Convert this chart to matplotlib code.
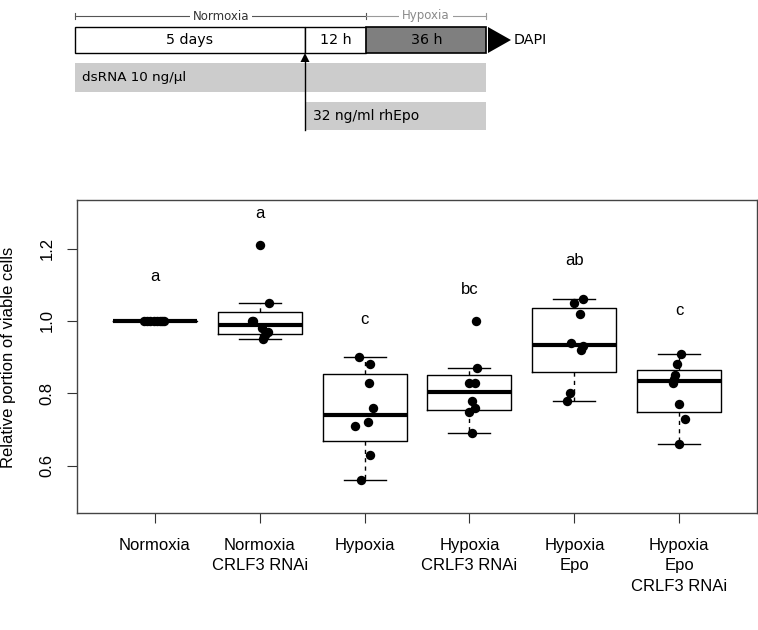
import numpy as np
import matplotlib
matplotlib.use('Agg')
import matplotlib.pyplot as plt
from matplotlib.patches import Rectangle, Polygon

plt.rcParams['font.family'] = ['Liberation Sans', 'DejaVu Sans']

# groups and measured values (relative portion of viable cells)
groups = ['Normoxia', 'Normoxia\nCRLF3 RNAi', 'Hypoxia', 'Hypoxia\nCRLF3 RNAi',
          'Hypoxia\nEpo', 'Hypoxia\nEpo\nCRLF3 RNAi']
normoxia = [1.00, 1.00, 1.00, 1.00, 1.00, 1.00, 1.00, 1.00]
normoxia_rnai = [1.21, 1.05, 1.00, 1.00, 0.98, 0.97, 0.96, 0.95]
hypoxia = [0.90, 0.88, 0.83, 0.76, 0.72, 0.71, 0.63, 0.56]
hypoxia_rnai = [1.00, 0.87, 0.83, 0.83, 0.78, 0.76, 0.75, 0.69]
hypoxia_epo = [1.06, 1.05, 1.02, 0.94, 0.93, 0.92, 0.80, 0.78]
hypoxia_epo_rnai = [0.91, 0.88, 0.85, 0.84, 0.83, 0.77, 0.73, 0.66]
data = [normoxia, normoxia_rnai, hypoxia, hypoxia_rnai, hypoxia_epo, hypoxia_epo_rnai]

# horizontal jitter of the dots (as in stripchart)
jitter = [
    [-0.10, -0.07, -0.04, -0.01, 0.02, 0.05, 0.07, 0.09],
    [0.0, 0.09, -0.07, -0.06, 0.02, 0.08, 0.05, 0.03],
    [-0.054, 0.05, 0.044, 0.076, 0.03, -0.095, 0.053, -0.029],
    [0.065, 0.07, 0.0, 0.05, 0.02, 0.05, -0.005, 0.02],
    [0.084, -0.008, 0.052, -0.036, 0.084, 0.062, -0.043, -0.074],
    [0.02, -0.024, -0.043, -0.055, -0.059, 0.0, 0.052, 0.0],
]

letters = ['a', 'a', 'c', 'bc', 'ab', 'c']
letter_y = [1.124, 1.297, 1.005, 1.087, 1.166, 1.03]


def tukey_stats(vals):
    # R boxplot style: hinges, 1.5*IQR whiskers
    x = np.sort(np.asarray(vals, dtype=float))
    n = len(x)
    lo = x[:(n + 1) // 2]
    hi = x[n // 2:]
    q1, med, q3 = np.median(lo), np.median(x), np.median(hi)
    iqr = q3 - q1
    whislo = x[x >= q1 - 1.5 * iqr].min()
    whishi = x[x <= q3 + 1.5 * iqr].max()
    return dict(med=med, q1=q1, q3=q3, whislo=whislo, whishi=whishi, fliers=[])


fig = plt.figure(figsize=(7.58, 6.30), dpi=100)
ax = fig.add_axes([77 / 758, 1 - 513 / 630, 680 / 758, 313 / 630])

pos = np.arange(1, len(groups) + 1)
stats = [tukey_stats(d) for d in data]
ax.bxp(stats, positions=pos, widths=0.8, showfliers=False, capwidths=0.4,
       boxprops=dict(color='black', linewidth=1),
       medianprops=dict(color='black', linewidth=3, solid_capstyle='butt'),
       whiskerprops=dict(color='black', linewidth=1, linestyle=(0, (3, 3))),
       capprops=dict(color='black', linewidth=1))

for i, d in enumerate(data):
    ax.scatter(pos[i] + np.array(jitter[i]), d, s=46, color='black', zorder=5,
               linewidths=0)
    ax.text(pos[i], letter_y[i], letters[i], ha='center', va='center', fontsize=12)

ax.set_xlim(0.26, 6.74)
ax.set_ylim(0.47, 1.334)
ax.set_yticks([0.6, 0.8, 1.0, 1.2])
ax.set_yticklabels(['0.6', '0.8', '1.0', '1.2'], rotation=90, va='center')
ax.set_xticks(pos)
ax.set_xticklabels(groups, fontsize=12, linespacing=1.45)
ax.tick_params(axis='both', length=7, width=0.8, color='#333333', labelsize=12, pad=9)
ax.tick_params(axis='x', pad=11)
for sp in ax.spines.values():
    sp.set_color('#444444')
    sp.set_linewidth(1)
fig.text(9 / 758, 1 - 357 / 630, 'Relative portion of viable cells', rotation=90,
         ha='center', va='center', fontsize=12)

# timeline schematic on top, in pixel units
tl = fig.add_axes([0, 0, 1, 1])
tl.set_xlim(0, 758)
tl.set_ylim(630, 0)
tl.axis('off')
tl.patch.set_alpha(0)
tf = dict(family=['DejaVu Sans'])

# phase brackets
tl.plot([75, 366], [16, 16], color='#555555', lw=0.8)
tl.plot([75, 75], [13, 19], color='#555555', lw=0.8)
tl.plot([366, 366], [13, 19], color='#555555', lw=0.8)
tl.plot([366, 486], [16, 16], color='#9a9a9a', lw=0.8)
tl.plot([486, 486], [13, 19], color='#9a9a9a', lw=0.8)
tl.text(221, 16, 'Normoxia', ha='center', va='center', fontsize=8.5, color='#333333',
        bbox=dict(facecolor='white', edgecolor='none', pad=2), **tf)
tl.text(426, 16, 'Hypoxia', ha='center', va='center', fontsize=8.5, color='#8a8a8a',
        bbox=dict(facecolor='white', edgecolor='none', pad=2), **tf)

# main bar
tl.add_patch(Rectangle((75, 26.5), 230, 26, facecolor='white', edgecolor='black', lw=1))
tl.add_patch(Rectangle((305, 26.5), 61, 26, facecolor='white', edgecolor='black', lw=1))
tl.add_patch(Rectangle((366, 26.5), 120, 26, facecolor='#7f7f7f', edgecolor='black', lw=1.2))
tl.text(190, 40, '5 days', ha='center', va='center', fontsize=10.3, **tf)
tl.text(335.5, 40, '12 h', ha='center', va='center', fontsize=10.3, **tf)
tl.text(426.5, 40, '36 h', ha='center', va='center', fontsize=10.3, **tf)
tl.add_patch(Polygon([(488, 27), (488, 53), (511, 40)], closed=True, facecolor='black',
                     edgecolor='none'))
tl.text(514, 40, 'DAPI', ha='left', va='center', fontsize=10.3, **tf)

# treatments
tl.add_patch(Rectangle((75, 63), 411, 29, facecolor='#cccccc', edgecolor='none'))
tl.text(82, 77.5, 'dsRNA 10 ng/µl', ha='left', va='center', fontsize=9.7, **tf)
tl.add_patch(Rectangle((305, 102), 181, 28, facecolor='#cccccc', edgecolor='none'))
tl.text(313, 116, '32 ng/ml rhEpo', ha='left', va='center', fontsize=10, **tf)

# Epo addition arrow
tl.plot([305, 305], [130, 58], color='black', lw=1)
tl.add_patch(Polygon([(305, 53), (300.5, 62), (309.5, 62)], closed=True,
                     facecolor='black', edgecolor='none'))

fig.savefig('out.png', dpi=100)
